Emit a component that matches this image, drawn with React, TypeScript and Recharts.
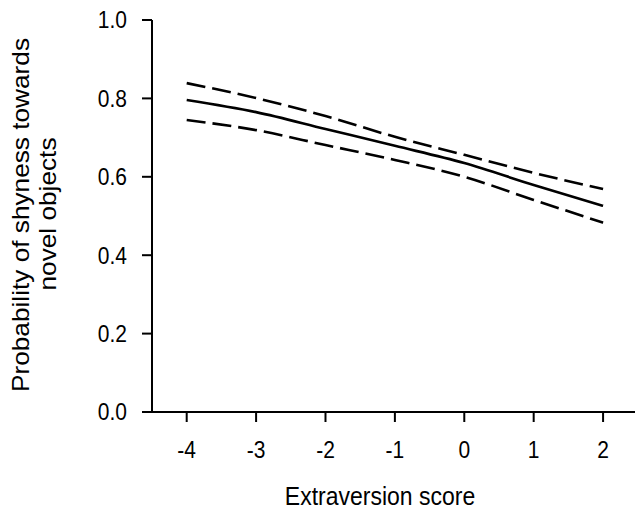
import React from 'react';
import { LineChart, Line, XAxis, YAxis } from 'recharts';

// values
const extraversion = [-4, -3, -2, -1, 0, 1, 2];
const fitted = [0.796, 0.765, 0.722, 0.679, 0.635, 0.579, 0.526];
const upperCI = [0.839, 0.801, 0.755, 0.702, 0.656, 0.61, 0.569];
const lowerCI = [0.745, 0.719, 0.681, 0.643, 0.6, 0.541, 0.483];

const xTicks = [-4, -3, -2, -1, 0, 1, 2];
const yTicks = [0, 0.2, 0.4, 0.6, 0.8, 1.0];

const data = extraversion.map((x, i) => ({
  x,
  fit: fitted[i],
  upper: upperCI[i],
  lower: lowerCI[i],
}));

const FONT = '"Liberation Sans", Arial, sans-serif';
const W = 636;
const H = 519;
// the source figure is a little taller than it is wide, so text is stretched vertically
const STRETCH = 1.12;
const TICK_FS = 21;

const XTick = (props: any) => {
  const { x, payload } = props;
  return (
    <text
      transform={`translate(${x},458) scale(1,${STRETCH})`}
      textAnchor="middle"
      fontFamily={FONT}
      fontSize={TICK_FS}
      fill="#000"
    >
      {payload.value}
    </text>
  );
};

const YTick = (props: any) => {
  const { y, payload } = props;
  const half = 0.716 * TICK_FS * STRETCH / 2;
  return (
    <text
      transform={`translate(127,${y + half}) scale(1,${STRETCH})`}
      textAnchor="end"
      fontFamily={FONT}
      fontSize={TICK_FS}
      fill="#000"
    >
      {Number(payload.value).toFixed(1)}
    </text>
  );
};

export default function App() {
  return (
    <div style={{ position: 'absolute', left: 0, top: 0, width: W, height: H, background: '#fff' }}>
      <LineChart width={W} height={H} data={data} margin={{ top: 20, right: 1, left: 0, bottom: 0 }}>
        <XAxis
          dataKey="x"
          type="number"
          domain={[-4.5, 2.46]}
          ticks={xTicks}
          height={107}
          tickSize={10}
          tick={<XTick />}
          axisLine={{ stroke: '#000', strokeWidth: 2 }}
          tickLine={{ stroke: '#000', strokeWidth: 2 }}
          allowDataOverflow
        />
        <YAxis
          type="number"
          domain={[0, 1]}
          ticks={yTicks}
          width={152}
          tickSize={10}
          tick={<YTick />}
          axisLine={{ stroke: '#000', strokeWidth: 2 }}
          tickLine={{ stroke: '#000', strokeWidth: 2 }}
        />
        <Line dataKey="upper" type="monotone" stroke="#000" strokeWidth={2.6} strokeDasharray="19 7" dot={false} isAnimationActive={false} />
        <Line dataKey="fit" type="monotone" stroke="#000" strokeWidth={2.6} dot={false} isAnimationActive={false} />
        <Line dataKey="lower" type="monotone" stroke="#000" strokeWidth={2.6} strokeDasharray="19 7" dot={false} isAnimationActive={false} />
      </LineChart>
      <svg width={W} height={H} style={{ position: 'absolute', left: 0, top: 0, pointerEvents: 'none' }}>
        <g fontFamily={FONT} fontSize={23} fill="#000" textAnchor="middle">
          <text transform={`translate(380,505) scale(1,${STRETCH})`}>Extraversion score</text>
          <text transform={`translate(29,215) rotate(-90) scale(1.14,1)`}>Probability of shyness towards</text>
          <text transform={`translate(56,214) rotate(-90) scale(1.14,1)`}>novel objects</text>
        </g>
      </svg>
    </div>
  );
}
